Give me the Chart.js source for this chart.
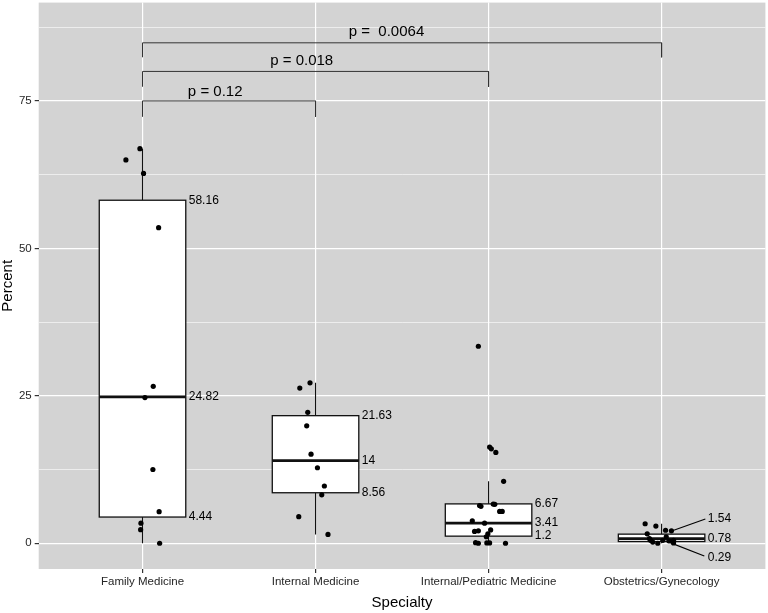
<!DOCTYPE html>
<html>
<head>
<meta charset="utf-8">
<script src="https://cdn.jsdelivr.net/npm/chart.js@4.4.1/dist/chart.umd.min.js"></script>
<style>
  body { margin: 0; background: #fff; }
  #wrap { width: 768px; height: 613px; }
</style>
</head>
<body>
<div id="wrap"><canvas id="myChart"></canvas></div>
<script>
const categories = ['Family Medicine', 'Internal Medicine', 'Internal/Pediatric Medicine', 'Obstetrics/Gynecology'];

// box summaries per specialty
const q1 = [4.44, 8.56, 1.2, 0.29];
const medians = [24.82, 14, 3.41, 0.78];
const q3 = [58.16, 21.63, 6.67, 1.54];
const whiskerLow = [0, 1.5, 0, 0];
const whiskerHigh = [66.9, 27.2, 10.5, 3.3];

// raw observations (value, horizontal jitter in category units)
const fmValues = [66.9, 65.0, 62.7, 53.5, 26.6, 24.7, 12.5, 5.35, 3.4, 2.3, 0];
const fmJitter = [-0.015, -0.096, 0.006, 0.093, 0.062, 0.014, 0.060, 0.096, -0.009, -0.011, 0.099];
const imValues = [27.2, 26.3, 22.2, 19.9, 15.1, 12.8, 9.7, 8.2, 4.5, 1.5];
const imJitter = [-0.032, -0.091, -0.045, -0.051, -0.026, 0.011, 0.051, 0.036, -0.097, 0.072];
const ipmValues = [33.4, 16.3, 16.0, 15.4, 10.5, 6.4, 6.25, 6.64, 6.6, 5.4, 5.4, 3.8, 3.4, 2.0, 2.1, 2.25, 1.6, 1.1, 0.1, 0, 0.05, 0.05, 0];
const ipmJitter = [-0.059, 0.006, 0.016, 0.042, 0.087, -0.052, -0.044, 0.027, 0.036, 0.064, 0.079, -0.094, -0.023, -0.081, -0.059, 0.012, -0.004, -0.013, -0.075, -0.059, -0.010, 0.006, 0.098];
const obValues = [3.3, 2.9, 1.6, 2.2, 2.1, 0.8, 0.2, 0.5, 1.1, 0.5, 0.4, 0.05, 0.5, 0];
const obJitter = [-0.095, -0.033, -0.083, 0.023, 0.057, -0.070, -0.051, -0.064, 0.027, 0.069, 0.042, 0.069, 0.007, -0.022];

// significance brackets
const bracketFrom = [0, 0, 0];
const bracketTo = [1, 2, 3];
const bracketTop = [75, 80, 84.85];
const bracketFoot = [72.3, 77.4, 82.4];
const pLabels = ['p = 0.12', 'p = 0.018', 'p =  0.0064'];
const pLabelX = [0.42, 0.92, 1.41];
const pLabelY = [76.6, 81.75, 86.7];

// text beside the boxes; last group is repelled
const boxLabelY = [
  [58.16, 24.82, 4.44],
  [21.63, 14, 8.56],
  [6.67, 3.41, 1.2],
  [4.1, 0.75, -2.5]
];

const FONT = "'Liberation Sans', Arial, Helvetica, sans-serif";
const yTicks = [0, 12.5, 25, 37.5, 50, 62.5, 75, 87.5];

function pts(idx, values, jitter) {
  return values.map((v, k) => ({ x: idx + jitter[k], y: v }));
}

const points = [].concat(
  pts(0, fmValues, fmJitter),
  pts(1, imValues, imJitter),
  pts(2, ipmValues, ipmJitter),
  pts(3, obValues, obJitter)
);

const bracketSets = bracketFrom.map((a, i) => ({
  type: 'line',
  data: [
    { x: a, y: bracketFoot[i] }, { x: a, y: bracketTop[i] },
    { x: bracketTo[i], y: bracketTop[i] }, { x: bracketTo[i], y: bracketFoot[i] }
  ],
  borderColor: '#333',
  borderWidth: 1,
  pointRadius: 0,
  fill: false
}));

const panelBg = {
  id: 'panelBg',
  beforeDraw(chart) {
    const { ctx, chartArea: a } = chart;
    ctx.save();
    ctx.fillStyle = '#d3d3d3';
    ctx.fillRect(a.left, a.top, a.right - a.left, a.bottom - a.top);
    ctx.restore();
  }
};

const boxes = {
  id: 'boxes',
  beforeDatasetsDraw(chart) {
    const { ctx, scales: { x, y } } = chart;
    ctx.save();
    categories.forEach((c, i) => {
      const cx = x.getPixelForValue(i);
      const l = x.getPixelForValue(i - 0.25);
      const r = x.getPixelForValue(i + 0.25);
      ctx.strokeStyle = '#111';
      ctx.lineWidth = 1.1;
      ctx.beginPath();
      ctx.moveTo(cx, y.getPixelForValue(whiskerHigh[i]));
      ctx.lineTo(cx, y.getPixelForValue(q3[i]));
      ctx.moveTo(cx, y.getPixelForValue(q1[i]));
      ctx.lineTo(cx, y.getPixelForValue(whiskerLow[i]));
      ctx.stroke();
      const top = y.getPixelForValue(q3[i]);
      const bot = y.getPixelForValue(q1[i]);
      ctx.fillStyle = '#fff';
      ctx.fillRect(l, top, r - l, bot - top);
      ctx.lineWidth = 1.3;
      ctx.strokeRect(l, top, r - l, bot - top);
      ctx.lineWidth = 2.6;
      ctx.beginPath();
      const m = y.getPixelForValue(medians[i]);
      ctx.moveTo(l, m);
      ctx.lineTo(r, m);
      ctx.stroke();
    });
    ctx.restore();
  }
};

const labels = {
  id: 'labels',
  afterDatasetsDraw(chart) {
    const { ctx, scales: { x, y } } = chart;
    ctx.save();
    ctx.fillStyle = '#000';
    ctx.textBaseline = 'middle';
    ctx.textAlign = 'left';
    ctx.font = '12px ' + FONT;
    categories.forEach((c, i) => {
      const r = x.getPixelForValue(i + 0.25);
      const vals = [q3[i], medians[i], q1[i]];
      vals.forEach((v, k) => {
        ctx.fillText(String(v), r + 3, y.getPixelForValue(boxLabelY[i][k]));
      });
    });
    // leader segments for the repelled labels
    ctx.strokeStyle = '#000';
    ctx.lineWidth = 1.1;
    ctx.beginPath();
    ctx.moveTo(x.getPixelForValue(3.046), y.getPixelForValue(1.96));
    ctx.lineTo(x.getPixelForValue(3.253), y.getPixelForValue(4.1));
    ctx.moveTo(x.getPixelForValue(3.034), y.getPixelForValue(0.27));
    ctx.lineTo(x.getPixelForValue(3.247), y.getPixelForValue(-2.15));
    ctx.stroke();

    ctx.font = '15px ' + FONT;
    ctx.textAlign = 'center';
    pLabels.forEach((t, i) => {
      ctx.fillText(t, x.getPixelForValue(pLabelX[i]), y.getPixelForValue(pLabelY[i]));
    });
    ctx.restore();
  }
};

new Chart(document.getElementById('myChart'), {
  type: 'scatter',
  data: {
    datasets: [
      {
        data: points,
        backgroundColor: '#000',
        borderWidth: 0,
        pointRadius: 2.6,
        pointHoverRadius: 2.6
      },
      ...bracketSets
    ]
  },
  options: {
    responsive: true,
    maintainAspectRatio: false,
    animation: false,
    layout: { padding: { left: 0, right: 2, top: 0, bottom: 0 } },
    plugins: { legend: { display: false }, tooltip: { enabled: false } },
    scales: {
      x: {
        type: 'linear',
        min: -0.6,
        max: 3.6,
        afterBuildTicks(s) { s.ticks = [0, 1, 2, 3].map(v => ({ value: v })); },
        afterFit(s) { s.height = 44; s.paddingLeft = 0; s.paddingRight = 0; },
        border: { display: false },
        grid: { color: '#fff', lineWidth: 1.2, tickColor: '#333', tickLength: 4 },
        ticks: {
          autoSkip: false,
          maxRotation: 0,
          padding: 2,
          color: '#262626',
          font: { family: FONT, size: 11.5 },
          callback: v => categories[v]
        },
        title: {
          display: true,
          text: 'Specialty',
          color: '#000',
          font: { family: FONT, size: 15 },
          padding: { top: 0, bottom: 1 }
        }
      },
      y: {
        type: 'linear',
        min: -4.37,
        max: 91.67,
        afterBuildTicks(s) { s.ticks = yTicks.map(v => ({ value: v })); },
        afterFit(s) { s.width = 38.7; s.paddingTop = 0; s.paddingBottom = 0; },
        border: { display: false },
        grid: {
          color: '#fff',
          lineWidth: c => (c.tick && c.tick.value % 25 === 0 ? 1.2 : 0.6),
          tickColor: c => (c.tick && c.tick.value % 25 === 0 ? '#333' : 'rgba(0,0,0,0)'),
          tickLength: 4
        },
        ticks: {
          padding: 3,
          color: '#262626',
          font: { family: FONT, size: 11.5 },
          callback: v => (v % 25 === 0 ? String(v) : '')
        },
        title: {
          display: true,
          text: 'Percent',
          color: '#000',
          font: { family: FONT, size: 15, lineHeight: 1.1 },
          padding: { top: 0, bottom: 0 }
        }
      }
    }
  },
  plugins: [panelBg, boxes, labels]
});
</script>
</body>
</html>
